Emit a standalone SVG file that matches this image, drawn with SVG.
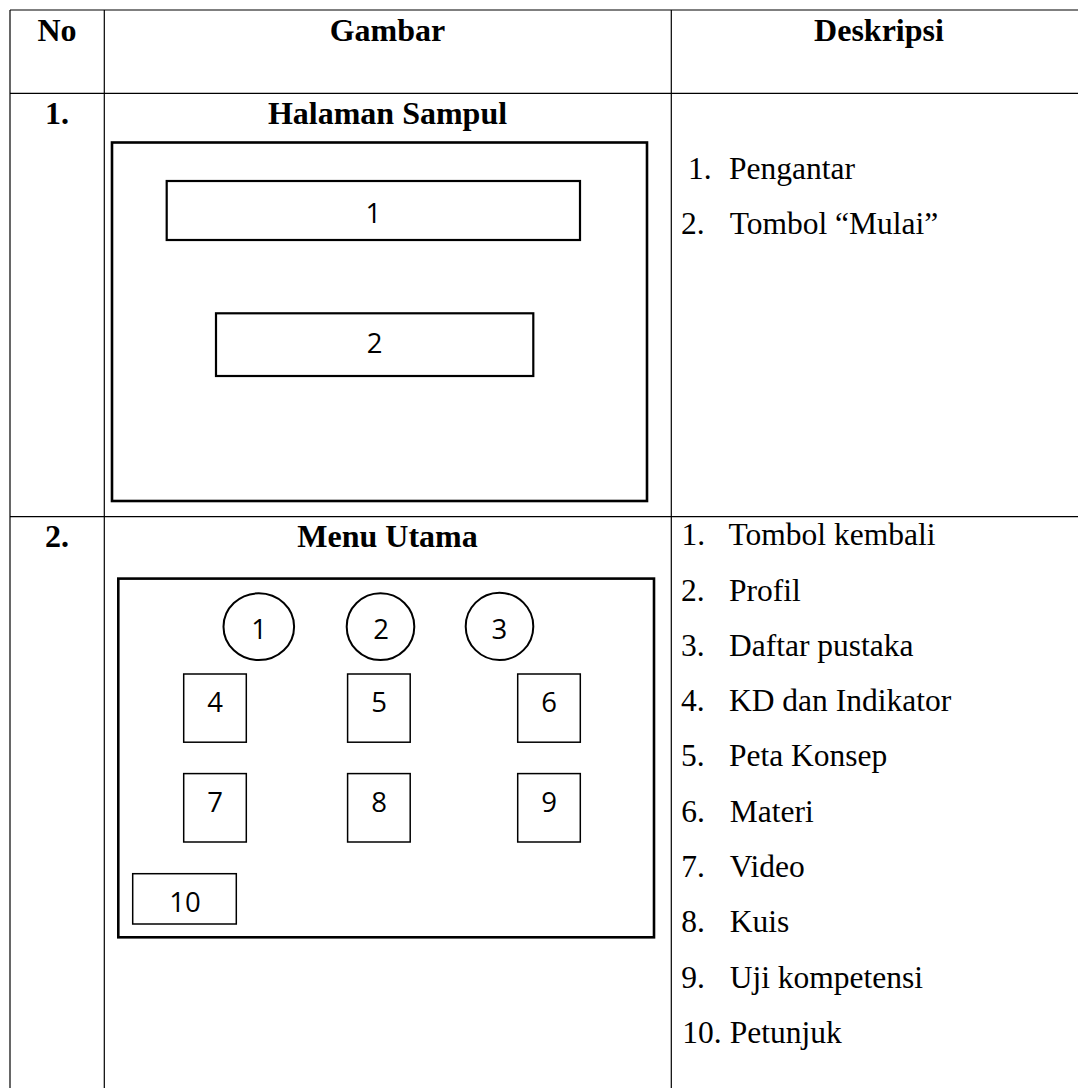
<svg xmlns="http://www.w3.org/2000/svg" width="1078" height="1088" viewBox="0 0 1078 1088">
<style>
.grid{stroke:#000;stroke-width:1.2;fill:none}
.frame{stroke:#000;stroke-width:2.6;fill:#fff}
.box{stroke:#000;stroke-width:2.2;fill:#fff}
.sq{stroke:#000;stroke-width:1.5;fill:#fff}
.circ{stroke:#000;stroke-width:2;fill:#fff}
.hd{font-family:"Liberation Serif","Times New Roman",serif;font-weight:bold;font-size:32px;fill:#000}
.tx{font-family:"Liberation Serif","Times New Roman",serif;font-size:31.5px;fill:#000}
.dg{font-family:"Open Sans","Noto Sans",sans-serif;font-size:27.5px;fill:#000;text-anchor:middle}
</style>
<rect width="1078" height="1088" fill="#fff"/>
<g id="table-grid">
<line class="grid" x1="10" y1="10" x2="1090" y2="10"/>
<line class="grid" x1="10" y1="93.3" x2="1090" y2="93.3"/>
<line class="grid" x1="10" y1="516.7" x2="1090" y2="516.7"/>
<line class="grid" x1="10" y1="10" x2="10" y2="1092"/>
<line class="grid" x1="104.3" y1="10" x2="104.3" y2="1092"/>
<line class="grid" x1="671.3" y1="10" x2="671.3" y2="1092"/>
</g>
<g id="header">
<text class="hd" x="57" y="41" text-anchor="middle">No</text>
<text class="hd" x="387.5" y="41" text-anchor="middle">Gambar</text>
<text class="hd" x="879" y="41" text-anchor="middle">Deskripsi</text>
</g>
<g id="row1">
<text class="hd" x="57" y="123.5" text-anchor="middle">1.</text>
<text class="hd" x="387.5" y="123.5" text-anchor="middle">Halaman Sampul</text>
<g id="cover-frame"><rect class="frame" x="112" y="142.5" width="535" height="358.5"/></g>
<g id="cover-1"><rect class="box" x="166.7" y="181" width="413.3" height="59"/><text class="dg" x="373.3" y="222.7">1</text></g>
<g id="cover-2"><rect class="box" x="216" y="313.3" width="317.3" height="62.7"/><text class="dg" x="374.6" y="353.3">2</text></g>
<g id="desc1">
<text class="tx" x="688" y="179">1.</text><text class="tx" x="729" y="179">Pengantar</text>
<text class="tx" x="681" y="234">2.</text><text class="tx" x="729.7" y="234">Tombol “Mulai”</text>
</g>
</g>
<g id="row2">
<text class="hd" x="57" y="546.7" text-anchor="middle">2.</text>
<text class="hd" x="387.5" y="546.7" text-anchor="middle">Menu Utama</text>
<g id="menu-frame"><rect class="frame" x="118.3" y="578.6" width="535.7" height="358.7"/></g>
<g id="menu-1"><ellipse class="circ" cx="258.8" cy="626.7" rx="35.3" ry="33.4"/><text class="dg" x="259" y="639.3">1</text></g>
<g id="menu-2"><ellipse class="circ" cx="380.5" cy="626.7" rx="33.8" ry="33.4"/><text class="dg" x="381" y="639.3">2</text></g>
<g id="menu-3"><ellipse class="circ" cx="499.5" cy="626.4" rx="33.8" ry="33.6"/><text class="dg" x="499.3" y="639.2">3</text></g>
<g id="menu-4"><rect class="sq" x="183.7" y="674" width="62.6" height="68.2"/><text class="dg" x="215" y="711.7">4</text></g>
<g id="menu-5"><rect class="sq" x="347.6" y="674" width="62.6" height="68.2"/><text class="dg" x="379" y="711.7">5</text></g>
<g id="menu-6"><rect class="sq" x="517.7" y="674" width="62.6" height="68.2"/><text class="dg" x="549" y="711.7">6</text></g>
<g id="menu-7"><rect class="sq" x="183.7" y="773.6" width="62.6" height="68.4"/><text class="dg" x="215" y="811.7">7</text></g>
<g id="menu-8"><rect class="sq" x="347.6" y="773.6" width="62.6" height="68.4"/><text class="dg" x="379" y="811.7">8</text></g>
<g id="menu-9"><rect class="sq" x="517.7" y="773.6" width="62.6" height="68.4"/><text class="dg" x="549" y="811.7">9</text></g>
<g id="menu-10"><rect class="sq" x="132.7" y="873.7" width="103.6" height="50.3"/><text class="dg" x="185" y="912.3">10</text></g>
<g id="desc2">
<text class="tx" x="681.5" y="545.3">1.</text><text class="tx" x="728.5" y="545.3">Tombol kembali</text>
<text class="tx" x="681" y="600.6">2.</text><text class="tx" x="729" y="600.6">Profil</text>
<text class="tx" x="681" y="655.8">3.</text><text class="tx" x="729" y="655.8">Daftar pustaka</text>
<text class="tx" x="681" y="711.1">4.</text><text class="tx" x="729" y="711.1">KD dan Indikator</text>
<text class="tx" x="681" y="766.4">5.</text><text class="tx" x="729" y="766.4">Peta Konsep</text>
<text class="tx" x="681.3" y="821.7">6.</text><text class="tx" x="729.7" y="821.7">Materi</text>
<text class="tx" x="681.3" y="877">7.</text><text class="tx" x="729.7" y="877">Video</text>
<text class="tx" x="681.3" y="932.3">8.</text><text class="tx" x="729.7" y="932.3">Kuis</text>
<text class="tx" x="681.3" y="987.6">9.</text><text class="tx" x="729.7" y="987.6">Uji kompetensi</text>
<text class="tx" x="682.3" y="1042.8">10.</text><text class="tx" x="729.7" y="1042.8">Petunjuk</text>
</g>
</g>
</svg>
